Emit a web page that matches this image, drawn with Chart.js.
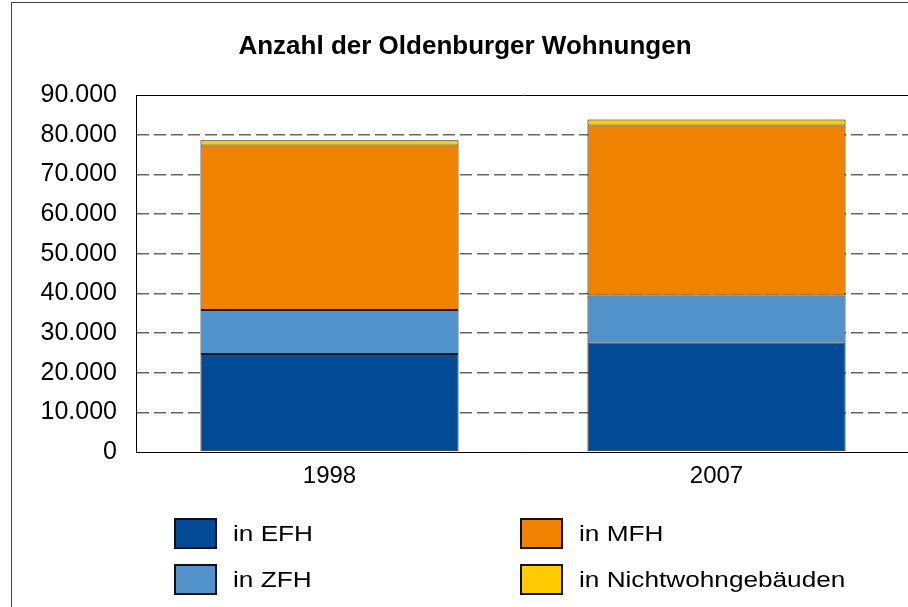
<!DOCTYPE html>
<html><head><meta charset="utf-8">
<script src="https://cdn.jsdelivr.net/npm/chart.js@4/dist/chart.umd.min.js"></script>
<style>
html,body{margin:0;padding:0;background:#fff;overflow:hidden;width:908px;height:607px;}
#frame{position:absolute;left:11px;top:2px;width:1000px;height:700px;border-left:1px solid #444;border-top:1px solid #444;}
#wrap{position:absolute;left:0;top:0;width:912px;height:500px;}
#legend{position:absolute;left:0;top:0;width:908px;height:607px;font-family:"Liberation Sans",Arial,sans-serif;font-size:22px;color:#000;}
.item{position:absolute;display:flex;align-items:center;height:31px;}
.box{width:39px;height:27px;border:2px solid #111;margin-right:16px;flex:none;}
.item span{display:inline-block;transform:scaleX(1.19);transform-origin:left center;white-space:nowrap;}
</style></head>
<body>
<div id="frame"></div>
<div id="wrap"><canvas id="c" width="912" height="500"></canvas></div>
<div id="legend"></div>
<script>
const categories = ['1998', '2007'];
const seriesNames = ['in EFH', 'in ZFH', 'in MFH', 'in Nichtwohngebäuden'];
const efh = [24700, 27650];
const zfh = [11100, 11850];
const mfh = [41500, 42850];
const nwg = [1350, 1500];
const yTicks = [0, 10000, 20000, 30000, 40000, 50000, 60000, 70000, 80000, 90000];

const colors = ['#034a97', '#5092c9', '#ef8200', '#ffcb00'];
const values = [efh, zfh, mfh, nwg];
const family = '"Liberation Sans", Arial, sans-serif';

const datasets = seriesNames.map((n, i) => ({
  label: n, data: values[i], backgroundColor: colors[i],
  borderColor: '#1a1a1a', borderWidth: 1, borderSkipped: false,
  barPercentage: 0.667, categoryPercentage: 1
}));

new Chart(document.getElementById('c'), {
  type: 'bar',
  data: {labels: categories, datasets},
  options: {
    responsive: false, animation: false, devicePixelRatio: 1,
    layout: {padding: {left: 20, right: 2, top: 0, bottom: 0}},
    plugins: {
      legend: {display: false}, tooltip: {enabled: false},
      title: {display: true, text: 'Anzahl der Oldenburger Wohnungen', color: '#000',
        font: {family, size: 26, weight: 'bold'}, padding: {top: 31, bottom: 33}}
    },
    scales: {
      x: {stacked: true, grid: {display: false},
        border: {display: true, color: '#000', width: 1},
        ticks: {color: '#000', font: {family, size: 24}, padding: 2},
        afterFit(s) { s.height = 48; }},
      y: {stacked: true, min: yTicks[0], max: yTicks[yTicks.length - 1],
        afterBuildTicks(s) { s.ticks = yTicks.map(v => ({value: v})); },
        ticks: {color: '#000', font: {family, size: 25}, padding: 19, callback: v => v.toLocaleString('de-DE')},
        grid: {drawTicks: false, lineWidth: c => (c.tick && c.tick.value === 90000) ? 1 : 1.5,
          color: c => !c.tick ? '#666' : (c.tick.value === 0 ? 'rgba(0,0,0,0)' : (c.tick.value === 90000 ? '#000' : '#666'))},
        border: {display: true, color: '#000', width: 1,
          dash: c => (c.tick && c.tick.value === 90000) ? [] : [12, 5]},
        afterFit(s) { s.width = 116; }}
    }
  }
});

const legendPos = [[174, 518], [174, 564], [520, 518], [520, 564]];
const lg = document.getElementById('legend');
seriesNames.forEach((n, i) => {
  const d = document.createElement('div');
  d.className = 'item';
  d.style.left = legendPos[i][0] + 'px';
  d.style.top = legendPos[i][1] + 'px';
  const b = document.createElement('div');
  b.className = 'box'; b.style.background = colors[i];
  const t = document.createElement('span');
  t.textContent = n;
  d.appendChild(b); d.appendChild(t);
  lg.appendChild(d);
});
</script>
</body></html>
